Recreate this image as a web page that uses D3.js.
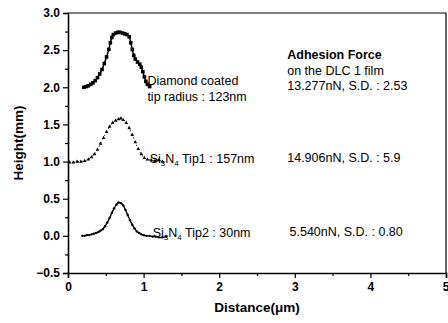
<!DOCTYPE html>
<html>
<head>
<meta charset="utf-8">
<script src="https://cdn.jsdelivr.net/npm/d3@7"></script>
<style>
  body { margin: 0; background: #fff; }
  svg { display: block; font-family: "Liberation Sans", Arial, sans-serif; }
  .tick text { font-weight: bold; font-size: 12px; }
</style>
</head>
<body>
<svg id="chart" width="448" height="323"></svg>
<script>
// diamond coated tip (filled squares)
const diamond = [
  [0.21, 2.00], [0.24, 2.01], [0.27, 2.02], [0.30, 2.04], [0.33, 2.06], [0.36, 2.09],
  [0.39, 2.13], [0.42, 2.18], [0.45, 2.24], [0.48, 2.32], [0.51, 2.41], [0.54, 2.51],
  [0.56, 2.60], [0.58, 2.67], [0.60, 2.71], [0.63, 2.73], [0.66, 2.74], [0.69, 2.74],
  [0.72, 2.73], [0.75, 2.72], [0.78, 2.71], [0.81, 2.68], [0.83, 2.60], [0.85, 2.51],
  [0.87, 2.43], [0.89, 2.38], [0.92, 2.34], [0.95, 2.31], [0.97, 2.27], [0.99, 2.21],
  [1.01, 2.14], [1.03, 2.08], [1.05, 2.04], [1.08, 2.01]
];
// Si3N4 tip1 (small triangles)
const tip1 = [
  [0.02, 0.99], [0.07, 0.99], [0.12, 1.00], [0.17, 1.00], [0.22, 1.01], [0.27, 1.03],
  [0.31, 1.06], [0.35, 1.10], [0.39, 1.16], [0.43, 1.24], [0.47, 1.32], [0.51, 1.40],
  [0.55, 1.47], [0.59, 1.52], [0.63, 1.55], [0.67, 1.57], [0.70, 1.58], [0.73, 1.56],
  [0.77, 1.52], [0.81, 1.45], [0.85, 1.36], [0.89, 1.26], [0.93, 1.17], [0.97, 1.10],
  [1.01, 1.05], [1.05, 1.03], [1.10, 1.02], [1.15, 1.01], [1.20, 1.02], [1.25, 1.00]
];
// Si3N4 tip2 (small dots)
const tip2 = [
  [0.19, 0.00], [0.22, 0.00], [0.25, 0.01], [0.28, 0.01], [0.31, 0.02], [0.34, 0.03],
  [0.37, 0.04], [0.40, 0.05], [0.43, 0.07], [0.46, 0.09], [0.49, 0.13], [0.52, 0.18],
  [0.55, 0.24], [0.58, 0.31], [0.61, 0.37], [0.64, 0.42], [0.67, 0.45], [0.70, 0.44],
  [0.73, 0.41], [0.76, 0.35], [0.79, 0.28], [0.82, 0.21], [0.85, 0.15], [0.88, 0.10],
  [0.91, 0.06], [0.94, 0.04], [0.97, 0.02], [1.00, 0.01], [1.04, 0.00], [1.08, 0.00],
  [1.12, -0.01], [1.16, -0.01], [1.20, -0.02], [1.25, -0.02], [1.30, -0.01]
];

const xTicks = [0, 1, 2, 3, 4, 5];
const yTicks = [-0.5, 0.0, 0.5, 1.0, 1.5, 2.0, 2.5, 3.0];

const labels = [
  { x: 1.05, y: 2.04, lines: [['Diamond coated'], ['tip radius : 123nm']] },
  { x: 1.08, y: 1.0, lines: [['Si', '3', 'N', '4', ' Tip1 : 157nm']] },
  { x: 1.12, y: 0.0, lines: [['Si', '3', 'N', '4', ' Tip2 : 30nm']] }
];
const forces = [
  { x: 2.9, y: 2.38, text: 'Adhesion Force', bold: true },
  { x: 2.9, y: 2.17, text: 'on the DLC 1 film' },
  { x: 2.9, y: 1.96, text: '13.277nN, S.D. : 2.53' },
  { x: 2.9, y: 1.0, text: '14.906nN, S.D. : 5.9' },
  { x: 2.93, y: 0.0, text: '5.540nN, S.D. : 0.80' }
];

const svg = d3.select('#chart');
const margin = { top: 13, right: 2, bottom: 50, left: 68 };
const W = 448, H = 323;

const x = d3.scaleLinear().domain([0, 5]).range([margin.left, W - margin.right]);
const y = d3.scaleLinear().domain([-0.5, 3.0]).range([H - margin.bottom, margin.top]);

// minor ticks
const xMinor = d3.range(0, 5.01, 0.5).filter(v => !xTicks.includes(v));
const yMinor = d3.range(-0.5, 3.01, 0.25).filter(v => !yTicks.some(t => Math.abs(t - v) < 1e-6));

const gx = svg.append('g')
  .attr('transform', `translate(0,${y(-0.5)})`)
  .call(d3.axisBottom(x).tickValues(xTicks).tickFormat(d3.format('d')).tickSize(5).tickPadding(4));
// last label sits at the right edge, keep it inside the page
gx.selectAll('.tick text').filter(d => d === 5).attr('text-anchor', 'end').attr('dx', 3);
svg.append('g')
  .attr('transform', `translate(0,${y(-0.5)})`)
  .call(d3.axisBottom(x).tickValues(xMinor).tickSize(3).tickFormat(''))
  .select('.domain').remove();

svg.append('g')
  .attr('transform', `translate(${x(0)},0)`)
  .call(d3.axisLeft(y).tickValues(yTicks).tickFormat(d3.format('.1f')).tickSize(5).tickPadding(3));
svg.append('g')
  .attr('transform', `translate(${x(0)},0)`)
  .call(d3.axisLeft(y).tickValues(yMinor).tickSize(3).tickFormat(''))
  .select('.domain').remove();

svg.selectAll('.domain').attr('stroke-width', 1.6);
svg.selectAll('.tick line').attr('stroke-width', 1.2);
svg.selectAll('.tick text').attr('fill', '#000');

// box top and right
svg.append('path')
  .attr('d', `M${x(0)},${y(3)} H${x(5)} V${y(-0.5)}`)
  .attr('fill', 'none').attr('stroke', '#000').attr('stroke-width', 1.2);

// series
const line = d3.line().x(d => x(d[0])).y(d => y(d[1])).curve(d3.curveCatmullRom);

svg.append('path').datum(diamond)
  .attr('d', line).attr('fill', 'none').attr('stroke', '#000').attr('stroke-width', 1.5);
svg.append('g').selectAll('rect').data(diamond).join('rect')
  .attr('x', d => x(d[0]) - 1.8).attr('y', d => y(d[1]) - 1.8)
  .attr('width', 3.6).attr('height', 3.6).attr('fill', '#000');

svg.append('path').datum(tip1)
  .attr('d', line).attr('fill', 'none').attr('stroke', '#000')
  .attr('stroke-width', 0.8).attr('stroke-dasharray', '1.5,2.5');
svg.append('g').selectAll('path').data(tip1).join('path')
  .attr('d', d3.symbol(d3.symbolTriangle, 6))
  .attr('transform', d => `translate(${x(d[0])},${y(d[1])})`)
  .attr('fill', '#000');

svg.append('path').datum(tip2)
  .attr('d', line).attr('fill', 'none').attr('stroke', '#000').attr('stroke-width', 1.4);
svg.append('g').selectAll('circle').data(tip2).join('circle')
  .attr('cx', d => x(d[0])).attr('cy', d => y(d[1])).attr('r', 1.2).attr('fill', '#000');

// annotations
labels.forEach(l => {
  l.lines.forEach((parts, i) => {
    const t = svg.append('text')
      .attr('x', x(l.x)).attr('y', y(l.y) + 1 + i * 16)
      .attr('font-size', 12.5).attr('fill', '#000');
    parts.forEach((p, j) => {
      const sub = parts.length > 1 && j % 2 === 1 && j < 4;
      t.append('tspan').text(p)
        .attr('font-size', sub ? 8 : 12.5)
        .attr('dy', sub ? 3 : (j > 0 && parts.length > 1 ? -3 : null));
    });
  });
});

forces.forEach(f => {
  svg.append('text')
    .attr('x', x(f.x)).attr('y', y(f.y))
    .attr('font-size', 12.5).attr('font-weight', f.bold ? 'bold' : null)
    .attr('fill', '#000').text(f.text);
});

// axis titles
svg.append('text')
  .attr('x', (x(0) + x(5)) / 2).attr('y', 312)
  .attr('text-anchor', 'middle').attr('font-size', 13.5).attr('font-weight', 'bold')
  .text('Distance(μm)');
svg.append('text')
  .attr('transform', `translate(23,${(y(-0.5) + y(3)) / 2}) rotate(-90)`)
  .attr('text-anchor', 'middle').attr('font-size', 13.5).attr('font-weight', 'bold')
  .text('Height(mm)');
</script>
</body>
</html>
